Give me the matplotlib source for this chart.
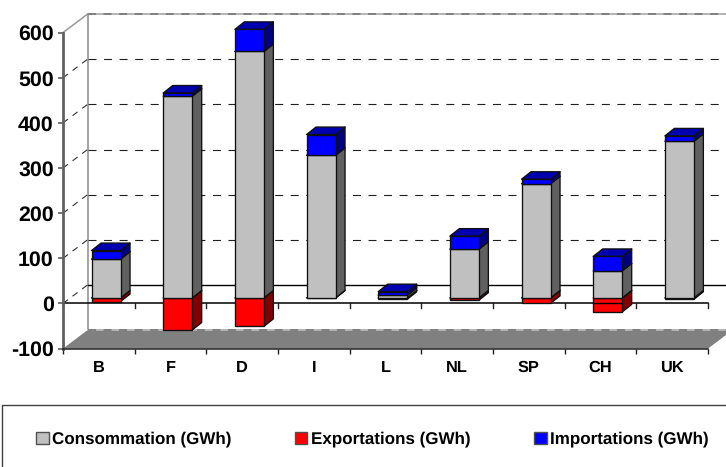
import matplotlib
matplotlib.use("Agg")
import matplotlib.pyplot as plt
from matplotlib.patches import Polygon, Rectangle, Patch
from matplotlib import font_manager as fm

categories = ["B", "F", "D", "I", "L", "NL", "SP", "CH", "UK"]
consommation = [86, 447, 546, 316, 6, 108, 253, 60, 347]
exportations = [8, 71, 63, 0, 3, 5, 12, 31, 3]
importations = [19, 7, 49, 46, 8, 29, 10, 32, 12]
yticks = [-100, 0, 100, 200, 300, 400, 500, 600]
legend_labels = ["Consommation (GWh)", "Exportations (GWh)", "Importations (GWh)"]

W, H = 726, 467

fig = plt.figure(figsize=(W / 100, H / 100), dpi=100)
L, R, T, B = 63, 708, 32.6, 348.6
ax = fig.add_axes([L / W, 1 - B / H, (R - L) / W, (B - T) / H])
ax.set_xlim(0, 9)
ax.set_ylim(-100, 600)
sx = (R - L) / 9
sy = (B - T) / 700
px = lambda v: v / sx
py = lambda v: v / sy
WDX, WDY = px(24.5), py(18.5)
ODX, ODY = px(7.2), py(5.5)
BDX, BDY = px(9.5), py(7.5)
BW = px(29)

ax.patch.set_visible(False)
for s in ("top", "right"):
    ax.spines[s].set_visible(False)
ax.spines["left"].set_color("#606060")
ax.spines["left"].set_linewidth(2.0)
ax.spines["bottom"].set_color("#202020")
ax.spines["bottom"].set_linewidth(1.1)
ax.set_yticks(yticks)
ax.set_yticklabels([str(v) for v in yticks], fontfamily="Liberation Sans",
                   fontweight="bold", fontsize=15.4)
ax.tick_params(axis="y", length=3.5, width=1.1, color="#505050", pad=3.2)
ax.set_xticks([i + 0.5 for i in range(9)])
ax.set_xticklabels(categories, fontfamily="Liberation Sans", fontweight="bold", fontsize=11.8)
ax.set_xticks(range(10), minor=True)
ax.tick_params(axis="x", which="major", length=0, pad=8.5)
ax.tick_params(axis="x", which="minor", length=3.5, width=1, color="#202020")

# floor and walls
ax.add_patch(Polygon([(0, -100), (9, -100), (9 + WDX, -100 + WDY), (WDX, -100 + WDY)],
                     closed=True, fc="#808080", ec="none", clip_on=False, zorder=1))
ax.plot([WDX, WDX], [-100 + WDY, 600 + WDY], color="#a4a4a4", lw=1.4, clip_on=False, zorder=1)
for level in (600 + WDY, -100 + WDY):
    ax.plot([WDX, 9 + WDX], [level] * 2, color="#b4b4b4", lw=1.4, clip_on=False, zorder=1)
    ax.plot([WDX, 9 + WDX], [level] * 2, color="#808080", lw=1.4, ls=(0, (4.1, 3.9)), clip_on=False, zorder=1)
ax.plot([0, WDX], [600, 600 + WDY], color="#999999", lw=1.1, clip_on=False, zorder=1)
for v in yticks[2:-1]:
    ax.plot([WDX, 9 + WDX], [v + WDY] * 2, color="#202020", lw=0.8, ls=(0, (7.2, 6.8)), clip_on=False, zorder=1)
for v in yticks[1:-1]:
    ax.plot([0, WDX], [v, v + WDY], color="#303030", lw=0.8, ls=(0, (5.6, 5.2)), clip_on=False, zorder=1)
ax.plot([WDX, 9 + WDX], [WDY, WDY], color="black", lw=1.0, clip_on=False, zorder=1)
ax.plot([0, 9], [0, 0], color="black", lw=1.1, clip_on=False, zorder=2)
for i in range(10):
    ax.plot([i, i], [0, -py(4.5)], color="#202020", lw=1, clip_on=False, zorder=2)


def box(x0, y0, y1, front, top, side, z):
    x1 = x0 + BW
    kw = dict(closed=True, ec="#101010", lw=0.95, clip_on=False, zorder=z, joinstyle="round")
    ax.add_patch(Polygon([(x1, y0), (x1 + BDX, y0 + BDY), (x1 + BDX, y1 + BDY), (x1, y1)], fc=side, **kw))
    ax.add_patch(Polygon([(x0, y1), (x1, y1), (x1 + BDX, y1 + BDY), (x0 + BDX, y1 + BDY)], fc=top, **kw))
    ax.add_patch(Rectangle((x0, y0), BW, y1 - y0, fc=front, ec="#101010", lw=0.95, clip_on=False, zorder=z))


GREY = ("#c0c0c0", "#808080", "#606060")
RED = ("#ff0000", "#c00000", "#800000")
BLUE = ("#0000ff", "#0000b0", "#000080")
for i in range(9):
    x0 = i + 0.5 + ODX - BW / 2
    c, e, m = consommation[i], exportations[i], importations[i]
    box(x0, ODY - e, ODY, *RED, 3)
    box(x0, ODY, ODY + c, *GREY, 4)
    box(x0, ODY + c, ODY + c + m, *BLUE, 5)
    if categories[i] == "CH":
        ax.plot([x0, x0 + BW], [0, 0], color="black", lw=1.0, clip_on=False, zorder=6)

# legend frame running off the canvas
fig.add_artist(Rectangle((2 / W, -0.1), 1.1, 1 - 405 / H + 0.1, transform=fig.transFigure,
                         fc="white", ec="#404040", lw=1.0))
handles = [Patch(fc=c, ec="#505050", lw=1) for c in ("#c0c0c0", "#ff0000", "#0000ff")]
matplotlib.rcParams["text.hinting"] = "no_hinting"
leg = fig.legend(handles, legend_labels, ncols=3, frameon=False, loc="center left",
                 bbox_to_anchor=(36 / W, 1 - 439.5 / H), borderpad=0, borderaxespad=0,
                 handlelength=0.74, handleheight=0.72, handletextpad=0.2, columnspacing=3.73,
                 prop=fm.FontProperties(family="Liberation Sans", weight="bold", size=12.25))
fig.savefig("out.png", dpi=100)
